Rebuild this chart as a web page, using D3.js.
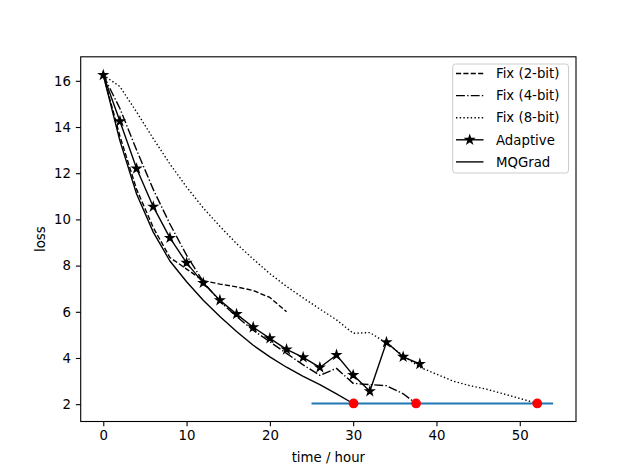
<!DOCTYPE html>
<html>
<head>
<meta charset="utf-8">
<script src="https://cdn.jsdelivr.net/npm/d3@7"></script>
<style>
  html, body { margin: 0; padding: 0; background: #fff; }
  svg { display: block; font-family: "DejaVu Sans", sans-serif; }
</style>
</head>
<body>
<svg id="chart" width="640" height="473"></svg>
<script>
// ---- data ----
const fix2X = [0, 2, 4, 6, 8, 10, 12, 14, 16, 18, 20, 22];
const fix2Y = [16.25, 13.6, 11.3, 9.65, 8.35, 7.85, 7.35, 7.2, 7.08, 6.92, 6.62, 6.0];

const fix4X = [0, 2, 4, 6, 8, 10, 12, 14, 16, 18, 20, 22, 24, 26, 28, 30, 32, 34, 36, 37.55];
const fix4Y = [16.25, 14.8, 13.0, 11.3, 9.8, 8.45, 7.3, 6.45, 5.8, 5.2, 4.7, 4.2, 3.7, 3.25, 3.55, 2.9, 2.85, 2.8, 2.45, 2.03];

const fix8X = [0, 2, 4, 6, 8, 10, 12, 14, 16, 18, 20, 22, 24, 26, 28, 30, 32, 34, 36, 38, 40, 42, 44, 46, 48, 50, 52.1];
const fix8Y = [16.25, 15.75, 14.65, 13.5, 12.4, 11.4, 10.5, 9.7, 8.95, 8.28, 7.65, 7.1, 6.6, 6.12, 5.65, 5.07, 5.1, 4.65, 4.1, 3.6, 3.3, 3.0, 2.8, 2.65, 2.45, 2.25, 2.03];

const adaptiveX = [0, 2, 4, 6, 8, 10, 12, 14, 16, 18, 20, 22, 24, 26, 28, 30, 32, 34, 36, 38];
const adaptiveY = [16.25, 14.25, 12.2, 10.55, 9.2, 8.12, 7.25, 6.5, 5.9, 5.33, 4.85, 4.37, 4.03, 3.59, 4.13, 3.26, 2.56, 4.68, 4.05, 3.74];

const mqgradX = [0, 2, 4, 6, 8, 10, 12, 14, 16, 18, 20, 22, 24, 26, 28, 30];
const mqgradY = [16.25, 13.4, 11.1, 9.45, 8.2, 7.3, 6.5, 5.8, 5.15, 4.55, 4.05, 3.6, 3.2, 2.85, 2.45, 2.03];

const targetX = [25, 54];
const targetY = [2.03, 2.03];

const reachX = [30.05, 37.55, 52.1];
const reachY = [2.03, 2.03, 2.03];

const xTicks = [0, 10, 20, 30, 40, 50];
const yTicks = [2, 4, 6, 8, 10, 12, 14, 16];

const legendLabels = ["Fix (2-bit)", "Fix (4-bit)", "Fix (8-bit)", "Adaptive", "MQGrad"];

// ---- layout ----
const L = 80.7, R = 576, T = 56.8, B = 421.5;
const FS = 13.3;
const svg = d3.select("#chart");

const x = d3.scaleLinear().domain([-2.71, 56.75]).range([L, R]);
const y = d3.scaleLinear().domain([1.25, 17.04]).range([B, T]);

const zip = (xs, ys) => xs.map((v, i) => [v, ys[i]]);
const line = d3.line().x(d => x(d[0])).y(d => y(d[1]));

const LW = 1.39;
const styles = [
  { dash: "5.14,2.22" },
  { dash: "8.9,2.22,1.39,2.22" },
  { dash: "1.39,2.29" },
  { dash: null, star: true },
  { dash: null }
];
const series = [
  zip(fix2X, fix2Y), zip(fix4X, fix4Y), zip(fix8X, fix8Y),
  zip(adaptiveX, adaptiveY), zip(mqgradX, mqgradY)
];

function starPath(cx, cy, r) {
  const pts = [];
  for (let i = 0; i < 10; i++) {
    const a = -Math.PI / 2 + i * Math.PI / 5;
    const rr = i % 2 === 0 ? r : r * 0.381966;
    pts.push([cx + rr * Math.cos(a), cy + rr * Math.sin(a)]);
  }
  return "M" + pts.map(p => p[0].toFixed(2) + "," + p[1].toFixed(2)).join("L") + "Z";
}

const plot = svg.append("g");
series.forEach((d, i) => {
  const p = plot.append("path")
    .attr("d", line(d))
    .attr("fill", "none")
    .attr("stroke", "#000")
    .attr("stroke-width", LW)
    .attr("stroke-linejoin", "round");
  if (styles[i].dash) p.attr("stroke-dasharray", styles[i].dash);
  if (styles[i].star) {
    plot.selectAll(null).data(d).enter().append("path")
      .attr("d", v => starPath(x(v[0]), y(v[1]), 4.17))
      .attr("fill", "#000").attr("stroke", "#000").attr("stroke-width", LW)
      .attr("stroke-linejoin", "miter");
  }
});

plot.append("path")
  .attr("d", line(zip(targetX, targetY)))
  .attr("fill", "none").attr("stroke", "#1f77b4").attr("stroke-width", 2.08);

plot.selectAll(null).data(zip(reachX, reachY)).enter().append("circle")
  .attr("cx", d => x(d[0])).attr("cy", d => y(d[1])).attr("r", 4.17)
  .attr("fill", "#ff0000").attr("stroke", "#ff0000").attr("stroke-width", LW);

// ---- axes ----
const xAxis = d3.axisBottom(x).tickValues(xTicks).tickSize(4.86).tickPadding(4.3).tickSizeOuter(0);
const gx = svg.append("g").attr("transform", `translate(0,${B})`).call(xAxis);
const yAxis = d3.axisLeft(y).tickValues(yTicks).tickSize(4.86).tickPadding(4.9).tickSizeOuter(0);
const gy = svg.append("g").attr("transform", `translate(${L},0)`).call(yAxis);
[gx, gy].forEach(g => {
  g.select(".domain").remove();
  g.selectAll("line").attr("stroke", "#000").attr("stroke-width", 1.1);
  g.selectAll("text").attr("font-size", FS).attr("fill", "#000")
    .attr("font-family", "DejaVu Sans, sans-serif");
});

svg.append("rect").attr("x", L).attr("y", T).attr("width", R - L).attr("height", B - T)
  .attr("fill", "none").attr("stroke", "#000").attr("stroke-width", 1.1);

svg.append("text").attr("x", (L + R) / 2).attr("y", 461.5)
  .attr("text-anchor", "middle").attr("font-size", FS).text("time / hour");
svg.append("text").attr("transform", `translate(44.5,${(T + B) / 2}) rotate(-90)`)
  .attr("text-anchor", "middle").attr("font-size", FS).text("loss");

// ---- legend ----
const lg = svg.append("g");
lg.append("rect").attr("x", 452.7).attr("y", 64).attr("width", 115.8).attr("height", 109)
  .attr("rx", 2.8).attr("fill", "#fff").attr("fill-opacity", 0.8)
  .attr("stroke", "#cccccc").attr("stroke-width", 1);
legendLabels.forEach((lab, i) => {
  const cy = 73.5 + i * 22.1;
  const p = lg.append("line").attr("x1", 456).attr("x2", 483.5).attr("y1", cy).attr("y2", cy)
    .attr("stroke", "#000").attr("stroke-width", LW);
  if (styles[i].dash) p.attr("stroke-dasharray", styles[i].dash);
  if (styles[i].star) {
    lg.append("path").attr("d", starPath(469.7, cy, 4.17))
      .attr("fill", "#000").attr("stroke", "#000").attr("stroke-width", LW);
  }
  lg.append("text").attr("x", 496).attr("y", cy).attr("dy", "0.36em")
    .attr("font-size", FS).text(lab);
});
</script>
</body>
</html>
